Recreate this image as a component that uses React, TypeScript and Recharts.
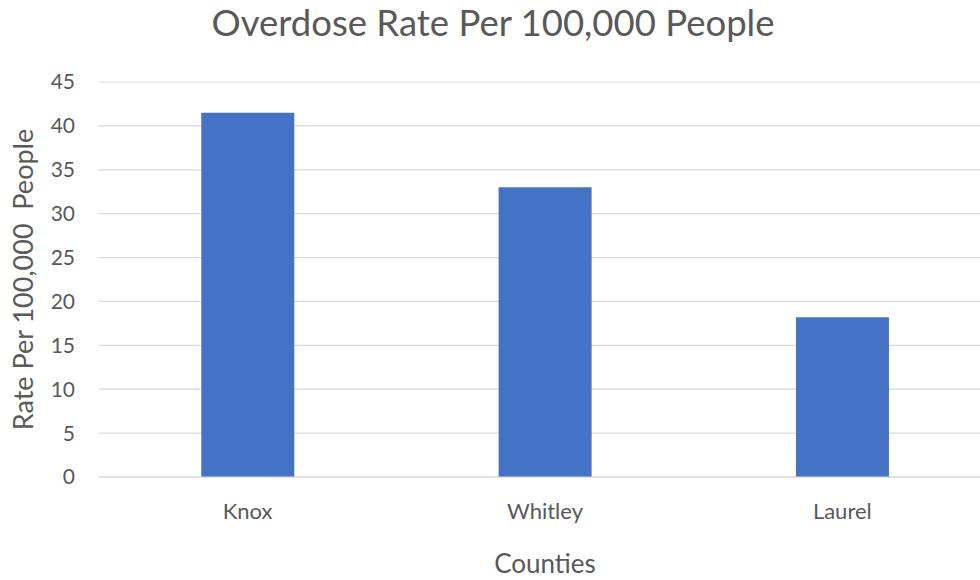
import React from 'react';
import { BarChart, Bar, XAxis, YAxis, CartesianGrid, Customized } from 'recharts';

const counties = ['Knox', 'Whitley', 'Laurel'];
const rates = [41.5, 33.0, 18.2];
const yTicks = [0, 5, 10, 15, 20, 25, 30, 35, 40, 45];
const title = 'Overdose Rate Per 100,000 People';
const yTitle = 'Rate Per 100,000  People';
const xTitle = 'Counties';

const data = counties.map((c, i) => ({ county: c, rate: rates[i] }));

const FONT = 'Lato, "Noto Sans", sans-serif';
const TEXT = '#595959';

const Title = () => (
  <text x={493} y={36} textAnchor="middle" fill={TEXT} fontFamily={FONT} fontSize={36.5}>
    {title}
  </text>
);

const YLabel = (props: any) => {
  const vb = props.viewBox || { x: 0, y: 82, width: 99, height: 395 };
  const cx = 33;
  const cy = vb.y + vb.height / 2;
  return (
    <text
      x={cx}
      y={cy}
      transform={`rotate(-90 ${cx} ${cy})`}
      textAnchor="middle"
      fill={TEXT}
      fontFamily={FONT}
      fontSize={27}
      style={{ whiteSpace: 'pre' }}
    >
      {yTitle}
    </text>
  );
};

export default function App() {
  return (
    <div style={{ position: 'absolute', left: 0, top: 0, width: 980, height: 580, overflow: 'hidden', background: '#fff' }}>
      <BarChart
        width={1000}
        height={580}
        data={data}
        margin={{ top: 82, right: 9, left: 0, bottom: 0 }}
        barCategoryGap="34.4%"
      >
        <CartesianGrid vertical={false} stroke="#d9d9d9" strokeWidth={1.2} />
        <XAxis
          dataKey="county"
          height={103}
          axisLine={{ stroke: '#d9d9d9' }}
          tickLine={false}
          tickMargin={20}
          tick={{ fill: TEXT, fontFamily: FONT, fontSize: 22 }}
          label={{ value: xTitle, position: 'insideBottom', offset: 7, fill: TEXT, fontFamily: FONT, fontSize: 26 }}
        />
        <YAxis
          width={99}
          domain={[0, 45]}
          ticks={yTicks}
          axisLine={false}
          tickLine={false}
          tickMargin={18}
          tick={{ fill: TEXT, fontFamily: FONT, fontSize: 21 }}
          label={<YLabel />}
        />
        <Bar dataKey="rate" fill="#4472C4" isAnimationActive={false} />
        <Customized component={Title} />
      </BarChart>
    </div>
  );
}
